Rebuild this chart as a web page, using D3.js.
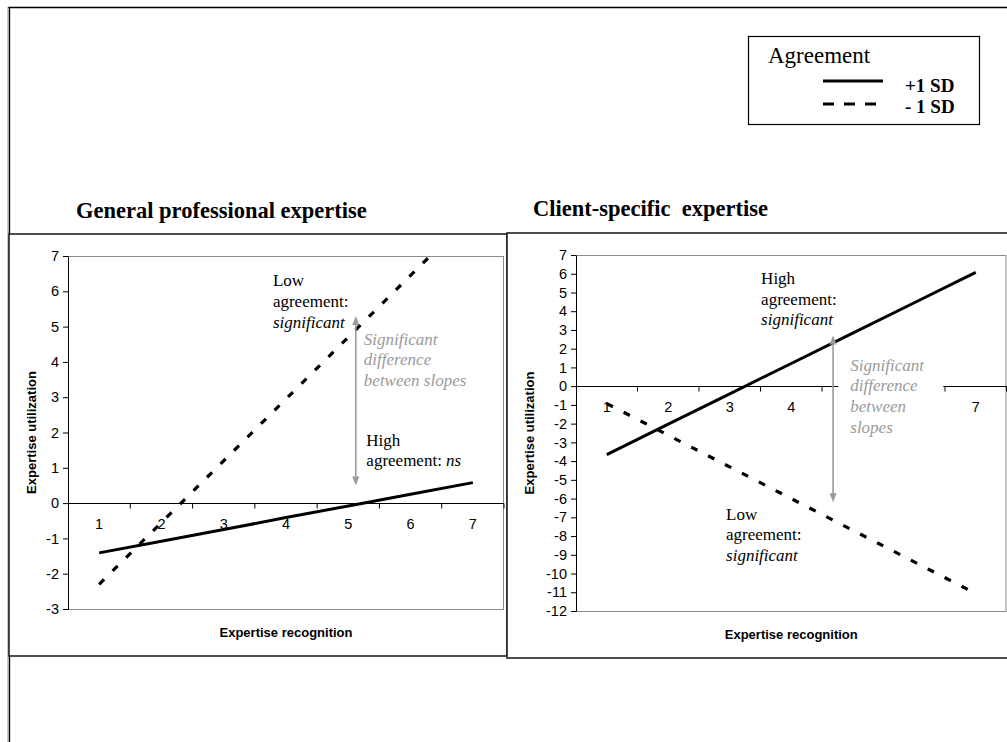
<!DOCTYPE html>
<html>
<head>
<meta charset="utf-8">
<script src="https://cdn.jsdelivr.net/npm/d3@7"></script>
<style>
  html, body { margin: 0; padding: 0; background: #fff; }
  svg { display: block; }
</style>
</head>
<body>
<svg id="fig" width="1007" height="742"></svg>
<script>
// ---- data -------------------------------------------------------------
const recognition = [1, 2, 3, 4, 5, 6, 7];

// General professional expertise: predicted utilization
const generalHigh = [-1.41, -1.08, -0.75, -0.41, -0.08, 0.25, 0.58];   // +1 SD agreement
const generalLow  = [-2.30, -0.55, 1.20, 2.95, 4.70, 6.45, 8.20];     // -1 SD agreement

// Client-specific expertise: predicted utilization
const clientHigh = [-3.65, -2.03, -0.41, 1.21, 2.83, 4.45, 6.07];
const clientLow  = [-0.93, -2.62, -4.31, -6.00, -7.69, -9.38, -11.07];

const generalYTicks = d3.range(-3, 8);   // -3 … 7
const clientYTicks  = d3.range(-12, 8);  // -12 … 7

const panelTitles = ["General professional expertise", "Client-specific  expertise"];
const xTitle = "Expertise recognition";
const yTitle = "Expertise utilization";
const legendTitle = "Agreement";
const legendLabels = ["+1 SD", "- 1 SD"];

// ---- drawing ----------------------------------------------------------
const svg = d3.select("#fig");
const SERIF = "'Liberation Serif', 'Times New Roman', serif";
const SANS = "'Liberation Sans', Arial, sans-serif";
const GREY = "#9a9a9a";
const TICK_FONT = 14.5;
const plainNumber = d => String(d);   // hyphen-minus, as in the printed figure

svg.append("rect").attr("width", 1007).attr("height", 742).attr("fill", "#fff");

// page frame
svg.append("line").attr("x1", 8).attr("x2", 1007).attr("y1", 7.5).attr("y2", 7.5)
  .attr("stroke", "#000").attr("stroke-width", 1.5);
svg.append("line").attr("x1", 8).attr("x2", 8).attr("y1", 7).attr("y2", 742)
  .attr("stroke", "#999").attr("stroke-width", 1);
svg.append("line").attr("x1", 9.5).attr("x2", 9.5).attr("y1", 7).attr("y2", 742)
  .attr("stroke", "#000").attr("stroke-width", 1.3);

// legend
const lg = svg.append("g");
lg.append("rect").attr("x", 748.5).attr("y", 36.5).attr("width", 231).attr("height", 88)
  .attr("fill", "#fff").attr("stroke", "#000").attr("stroke-width", 1.2);
lg.append("text").attr("x", 768).attr("y", 63).text(legendTitle)
  .attr("font-family", SERIF).attr("font-size", 23);
lg.append("line").attr("x1", 823).attr("x2", 883).attr("y1", 81).attr("y2", 81)
  .attr("stroke", "#000").attr("stroke-width", 3);
lg.append("line").attr("x1", 823).attr("x2", 877).attr("y1", 104).attr("y2", 104)
  .attr("stroke", "#000").attr("stroke-width", 3).attr("stroke-dasharray", "11,10");
legendLabels.forEach((t, i) => {
  lg.append("text").attr("x", 905).attr("y", 92 + i * 21).text(t)
    .attr("font-family", SERIF).attr("font-weight", "bold").attr("font-size", 19);
});

// panel titles
svg.append("text").attr("x", 76).attr("y", 218).text(panelTitles[0])
  .attr("font-family", SERIF).attr("font-weight", "bold").attr("font-size", 22.5);
svg.append("text").attr("x", 533).attr("y", 216).text(panelTitles[1])
  .attr("font-family", SERIF).attr("font-weight", "bold").attr("font-size", 22.5)
  .attr("xml:space", "preserve").style("white-space", "pre");

function panel(cfg) {
  const g = svg.append("g");
  // outer panel box
  g.append("rect").attr("x", cfg.box[0]).attr("y", cfg.box[1])
    .attr("width", cfg.box[2]).attr("height", cfg.box[3])
    .attr("fill", "#fff").attr("stroke", "#222").attr("stroke-width", 1.6);

  const x = d3.scaleBand().domain(recognition).range([cfg.plot.left, cfg.plot.right]);
  const y = d3.scaleLinear().domain(d3.extent(cfg.yTicks)).range([cfg.plot.bottom, cfg.plot.top]);
  const bw = x.bandwidth();
  const xc = d => x(d) + bw / 2;
  const xv = d3.scaleLinear().domain([1, 7]).range([xc(1), xc(7)]);

  const clipId = "clip" + cfg.id;
  g.append("clipPath").attr("id", clipId).append("rect")
    .attr("x", cfg.plot.left).attr("y", cfg.plot.top)
    .attr("width", cfg.plot.right - cfg.plot.left).attr("height", cfg.plot.bottom - cfg.plot.top);

  // plot area border
  g.append("rect").attr("x", cfg.plot.left + 0.5).attr("y", cfg.plot.top + 0.5)
    .attr("width", cfg.plot.right - cfg.plot.left - 1).attr("height", cfg.plot.bottom - cfg.plot.top)
    .attr("fill", "none").attr("stroke", "#8a8a8a").attr("stroke-width", 1);

  // y axis
  const ya = g.append("g").attr("transform", `translate(${cfg.plot.left},0)`)
    .call(d3.axisLeft(y).tickValues(cfg.yTicks).tickSizeInner(5).tickSizeOuter(0).tickPadding(4)
      .tickFormat(plainNumber));
  ya.selectAll("path.domain").attr("stroke", "#000");
  ya.selectAll("text").attr("font-family", SANS).attr("font-size", TICK_FONT).attr("fill", "#000");

  // x axis at zero, ticks on category boundaries
  const y0 = Math.round(y(0)) + 0.5;
  const xa = g.append("g").attr("transform", `translate(0,${y0})`)
    .call(d3.axisBottom(x).tickSize(0).tickPadding(15).tickFormat(plainNumber));
  xa.select("path.domain").remove();
  xa.selectAll("text").attr("font-family", SANS).attr("font-size", TICK_FONT).attr("fill", "#000");
  g.append("line").attr("x1", cfg.plot.left).attr("x2", cfg.plot.right)
    .attr("y1", y0).attr("y2", y0).attr("stroke", "#000").attr("stroke-width", 1);
  g.selectAll("line.bt").data(recognition).join("line").attr("class", "bt")
    .attr("x1", d => x(d) + bw).attr("x2", d => x(d) + bw)
    .attr("y1", y0).attr("y2", y0 + 5).attr("stroke", "#000");

  // regression lines
  const line = d3.line().x((d, i) => xc(recognition[i])).y(d => y(d));
  const lines = g.append("g").attr("clip-path", `url(#${clipId})`);
  lines.append("path").datum(cfg.high).attr("d", line)
    .attr("fill", "none").attr("stroke", "#000").attr("stroke-width", 3);
  lines.append("path").datum(cfg.low).attr("d", line)
    .attr("fill", "none").attr("stroke", "#000").attr("stroke-width", 3.2)
    .attr("stroke-dasharray", "7,12");

  // annotations
  cfg.notes.forEach(n => {
    const t = g.append("text").attr("x", xv(n.x)).attr("y", y(n.y))
      .attr("font-family", SERIF).attr("font-size", 17).attr("fill", n.grey ? GREY : "#000");
    n.lines.forEach((ln, i) => {
      const ts = t.append("tspan").attr("x", xv(n.x)).attr("dy", i === 0 ? 0 : n.step);
      ln.forEach(part => {
        ts.append("tspan").text(part.t).attr("font-style", part.i ? "italic" : null);
      });
    });
    if (n.mask) {
      // opaque text box: it covers the axis and the tick labels behind it
      const b = t.node().getBBox();
      const box = { x: b.x - 12, y: b.y - 4, w: 105, h: b.height + 8 };
      g.insert("rect", () => t.node())
        .attr("x", box.x).attr("y", box.y).attr("width", box.w).attr("height", box.h)
        .attr("fill", "#fff");
      xa.selectAll("g.tick").filter(d => {
        const cx = xc(d);
        return cx > box.x && cx < box.x + box.w;
      }).select("text").remove();
    }
  });

  // arrow between slopes
  const ax = xv(cfg.arrow.x), ay1 = y(cfg.arrow.y1), ay2 = y(cfg.arrow.y2);
  g.append("line").attr("x1", ax).attr("x2", ax).attr("y1", ay1 + 6).attr("y2", ay2 - 6)
    .attr("stroke", GREY).attr("stroke-width", 1.6);
  g.append("path").attr("d", `M${ax},${ay1} l-3.5,9 l7,0 z`).attr("fill", GREY);
  g.append("path").attr("d", `M${ax},${ay2} l-3.5,-9 l7,0 z`).attr("fill", GREY);

  // axis titles
  g.append("text").attr("x", (cfg.plot.left + cfg.plot.right) / 2).attr("y", cfg.xTitleY)
    .attr("text-anchor", "middle").text(xTitle)
    .attr("font-family", SANS).attr("font-weight", "bold").attr("font-size", 13);
  g.append("text")
    .attr("transform", `translate(${cfg.yTitleX},${(cfg.plot.top + cfg.plot.bottom) / 2}) rotate(-90)`)
    .attr("text-anchor", "middle").text(yTitle)
    .attr("font-family", SANS).attr("font-weight", "bold").attr("font-size", 13);
}

panel({
  id: "G",
  box: [9, 234, 498, 422],
  plot: { left: 68, right: 504, top: 256, bottom: 609 },
  yTicks: generalYTicks,
  high: generalHigh, low: generalLow,
  xTitleY: 637, yTitleX: 36,
  arrow: { x: 5.12, y1: 5.3, y2: 0.5 },
  notes: [
    { x: 3.79, y: 6.14, step: 21, lines: [[{ t: "Low" }], [{ t: "agreement:" }], [{ t: "significant", i: true }]] },
    { x: 5.25, y: 4.49, step: 20.5, grey: true,
      lines: [[{ t: "Significant", i: true }], [{ t: "difference", i: true }], [{ t: "between slopes", i: true }]] },
    { x: 5.29, y: 1.62, step: 20.5, lines: [[{ t: "High" }], [{ t: "agreement: " }, { t: "ns", i: true }]] }
  ]
});

panel({
  id: "C",
  box: [507, 233, 520, 425],
  plot: { left: 576, right: 1006.5, top: 255, bottom: 611 },
  yTicks: clientYTicks,
  high: clientHigh, low: clientLow,
  xTitleY: 639, yTitleX: 534,
  arrow: { x: 4.68, y1: 2.7, y2: -6.2 },
  notes: [
    { x: 3.51, y: 5.44, step: 20.5, lines: [[{ t: "High" }], [{ t: "agreement:" }], [{ t: "significant", i: true }]] },
    { x: 4.96, y: 0.82, step: 20.7, grey: true, mask: true,
      lines: [[{ t: "Significant", i: true }], [{ t: "difference", i: true }], [{ t: "between", i: true }], [{ t: "slopes", i: true }]] },
    { x: 2.94, y: -7.13, step: 20.5, lines: [[{ t: "Low" }], [{ t: "agreement:" }], [{ t: "significant", i: true }]] }
  ]
});
</script>
</body>
</html>
